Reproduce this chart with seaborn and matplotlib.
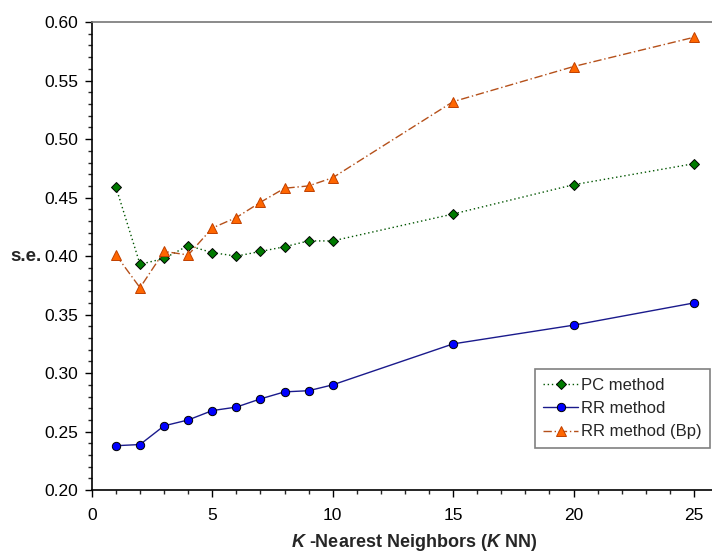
import matplotlib
matplotlib.use("Agg")
import matplotlib.pyplot as plt
import seaborn as sns
import pandas as pd
from matplotlib.ticker import MultipleLocator, FormatStrFormatter

k_values = [1, 2, 3, 4, 5, 6, 7, 8, 9, 10, 15, 20, 25]
pc_method = [0.459, 0.393, 0.398, 0.409, 0.403, 0.400, 0.404, 0.408, 0.413, 0.413, 0.436, 0.461, 0.479]
rr_method = [0.238, 0.239, 0.255, 0.260, 0.268, 0.271, 0.278, 0.284, 0.285, 0.290, 0.325, 0.341, 0.360]
rr_bp = [0.401, 0.373, 0.404, 0.401, 0.424, 0.433, 0.446, 0.458, 0.460, 0.467, 0.532, 0.562, 0.587]
series_names = ["PC method", "RR method", "RR method (Bp)"]

sns.set_style("ticks")
plt.rcParams['font.family'] = ['Liberation Sans', 'DejaVu Sans']
plt.rcParams['mathtext.fontset'] = 'custom'
plt.rcParams['mathtext.it'] = 'Liberation Sans:italic:bold'
plt.rcParams['mathtext.rm'] = 'Liberation Sans:bold'
plt.rcParams['mathtext.bf'] = 'Liberation Sans:bold'

fig = plt.figure(figsize=(7.12, 5.52), dpi=100)
ax = fig.add_axes([0.129, 0.112, 0.871, 0.848])

df = pd.DataFrame({"k": k_values, "pc": pc_method, "rr": rr_method, "bp": rr_bp})

sns.lineplot(data=df, x="k", y="pc", ax=ax, label=series_names[0], color="#005500",
             linestyle=(0, (1, 2)), linewidth=1.0, marker="D", markersize=4.8,
             markerfacecolor="#007A00", markeredgecolor="black", markeredgewidth=0.7)
sns.lineplot(data=df, x="k", y="rr", ax=ax, label=series_names[1], color="#1a1a8c",
             linestyle="-", linewidth=1.0, marker="o", markersize=6,
             markerfacecolor="#0000FF", markeredgecolor="black", markeredgewidth=0.7)
sns.lineplot(data=df, x="k", y="bp", ax=ax, label=series_names[2], color="#B5501A",
             linestyle=(0, (6, 2, 1, 2)), linewidth=1.0, marker="^", markersize=6.5,
             markerfacecolor="#FF6600", markeredgecolor="#C04000", markeredgewidth=0.7)

ax.set_xlim(0, 25.75)
ax.set_ylim(0.20, 0.60)
ax.xaxis.set_major_locator(MultipleLocator(5))
ax.xaxis.set_minor_locator(MultipleLocator(1))
ax.yaxis.set_major_locator(MultipleLocator(0.05))
ax.yaxis.set_minor_locator(MultipleLocator(0.01))
ax.yaxis.set_major_formatter(FormatStrFormatter("%.2f"))
ax.tick_params(axis="both", which="major", direction="out", length=5, width=1, labelsize=12.5, colors="black")
ax.tick_params(axis="x", which="major", pad=8)
ax.tick_params(axis="y", which="major", pad=5)
ax.tick_params(axis="both", which="minor", direction="out", length=3, width=1)

for s in ["left", "bottom"]:
    ax.spines[s].set_color("black")
    ax.spines[s].set_linewidth(1.2)
ax.spines["top"].set_color("#777777")
ax.spines["top"].set_linewidth(1.2)
ax.spines["right"].set_visible(False)

ax.set_xlabel(r"$\it{K}$ -Nearest Neighbors ($\it{K}$ NN)", fontsize=13, fontweight="bold", va="center")
ax.xaxis.set_label_coords(0.519, -0.111)
ax.set_ylabel("s.e.", fontsize=13.5, fontweight="bold", rotation=0, va="center", ha="center")
ax.yaxis.set_label_coords(-0.106, 0.5)

leg = ax.legend(loc="lower right", bbox_to_anchor=(1.0, 0.087), fontsize=12, frameon=True,
                fancybox=False, edgecolor="#808080", framealpha=1, handlelength=2.1,
                handletextpad=0.2, borderpad=0.5, labelspacing=0.5, borderaxespad=0.1)
leg.get_frame().set_linewidth(1.2)

fig.savefig("out.png", dpi=100)
